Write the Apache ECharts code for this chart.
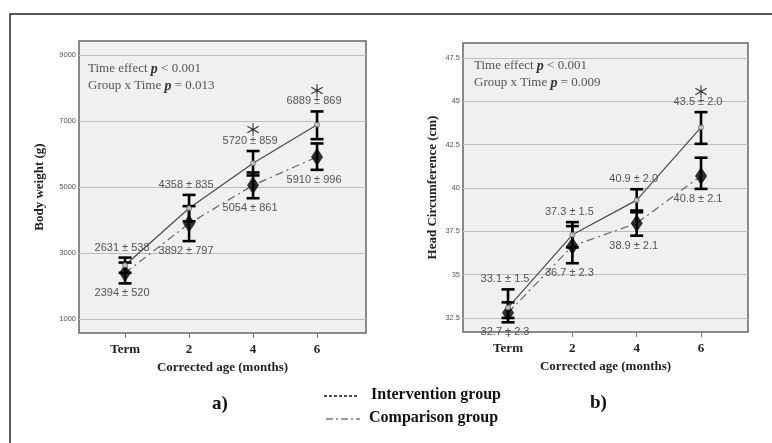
<!DOCTYPE html>
<html>
<head>
<meta charset="utf-8">
<script src="https://cdn.jsdelivr.net/npm/echarts@6/dist/echarts.min.js"></script>
<style>
  body { margin: 0; background: #fff; }
  #main { width: 772px; height: 443px; }
</style>
</head>
<body>
<div id="main"></div>
<script>
// x positions (months) and their tick labels
var ageTicks = [0, 2, 4, 6];
var ageLabels = ['Term', '2', '4', '6'];

// a) body weight (g)
var weightTicks = [1000, 3000, 5000, 7000, 9000];
var weightIntervention = [2631, 4358, 5720, 6889];
var weightInterventionLow = [2400, 3960, 5350, 6450];
var weightInterventionHigh = [2860, 4760, 6090, 7290];
var weightComparison = [2394, 3892, 5054, 5910];
var weightComparisonLow = [2080, 3360, 4660, 5520];
var weightComparisonHigh = [2710, 4420, 5440, 6320];
var weightInterventionText = ['2631 ± 538', '4358 ± 835', '5720 ± 859', '6889 ± 869'];
var weightComparisonText = ['2394 ± 520', '3892 ± 797', '5054 ± 861', '5910 ± 996'];
var weightStars = ['', '', '*', '*'];

// b) head circumference (cm)
var headTicks = [32.5, 35, 37.5, 40, 42.5, 45, 47.5];
var headIntervention = [33.1, 37.3, 39.3, 43.5];
var headInterventionLow = [32.5, 36.57, 38.6, 42.55];
var headInterventionHigh = [34.15, 38.03, 39.93, 44.38];
var headComparison = [32.8, 36.65, 37.97, 40.7];
var headComparisonLow = [32.25, 35.66, 37.25, 39.95];
var headComparisonHigh = [33.4, 37.8, 38.7, 41.75];
var headInterventionText = ['33.1 ± 1.5', '37.3 ± 1.5', '40.9 ± 2.0', '43.5 ± 2.0'];
var headComparisonText = ['32.7 ± 2.3', '36.7 ± 2.3', '38.9 ± 2.1', '40.8 ± 2.1'];
var headStars = ['', '', '', '*'];

var serif = '"Liberation Serif", "DejaVu Serif", serif';
var sans = '"Liberation Sans", Arial, sans-serif';

function pairs(xs, ys) {
  return xs.map(function (x, i) { return [x, ys[i]]; });
}

function bars(xs, lo, hi) {
  return xs.map(function (x, i) { return [x, lo[i], hi[i], i]; });
}

// error bars with the mean ± SD text (above or below) and the asterisk
function errorBars(idx, data, texts, stars, above) {
  return {
    type: 'custom',
    xAxisIndex: idx,
    yAxisIndex: idx,
    z: 4,
    silent: true,
    data: data,
    renderItem: function (params, api) {
      var x = api.value(0);
      var i = api.value(3);
      var top = api.coord([x, api.value(2)]);
      var bot = api.coord([x, api.value(1)]);
      var cw = 6.5;
      var st = { stroke: '#000', lineWidth: 2.6 };
      var kids = [
        { type: 'line', shape: { x1: top[0], y1: top[1], x2: bot[0], y2: bot[1] }, style: st },
        { type: 'line', shape: { x1: top[0] - cw, y1: top[1], x2: top[0] + cw, y2: top[1] }, style: st },
        { type: 'line', shape: { x1: bot[0] - cw, y1: bot[1], x2: bot[0] + cw, y2: bot[1] }, style: st }
      ];
      var ly = above ? top[1] - 10 : bot[1] + 10;
      kids.push({
        type: 'text',
        style: {
          text: texts[i], x: top[0] - 3, y: ly, align: 'center', verticalAlign: 'middle',
          fontSize: 11, fontFamily: sans, fill: '#555'
        }
      });
      if (stars[i]) {
        kids.push({
          type: 'text',
          style: {
            text: '＊', x: top[0], y: ly - 11, align: 'center', verticalAlign: 'middle',
            fontSize: 17, fontFamily: '"Noto Sans CJK SC"', fill: '#333'
          }
        });
      }
      return { type: 'group', children: kids };
    }
  };
}

function xAxisFor(idx, min, max) {
  return {
    type: 'value', gridIndex: idx, min: min, max: max,
    name: 'Corrected age (months)', nameLocation: 'middle', nameGap: 27,
    nameTextStyle: { fontFamily: serif, fontWeight: 'bold', fontSize: 13, color: '#222' },
    axisLine: { show: false },
    axisTick: { show: true, customValues: ageTicks, length: 5, lineStyle: { color: '#777' } },
    axisLabel: {
      customValues: ageTicks, margin: 10,
      fontFamily: serif, fontWeight: 'bold', fontSize: 13, color: '#222',
      formatter: function (v) { return ageLabels[ageTicks.indexOf(v)]; }
    },
    splitLine: { show: false }
  };
}

function yAxisFor(idx, min, max, ticks, name, gap) {
  return {
    type: 'value', gridIndex: idx, min: min, max: max,
    name: name, nameLocation: 'middle', nameGap: gap,
    nameTextStyle: { fontFamily: serif, fontWeight: 'bold', fontSize: 13, color: '#222' },
    axisLine: { show: false },
    axisTick: { show: true, customValues: ticks, length: 4, lineStyle: { color: '#666' } },
    axisLabel: {
      customValues: ticks, margin: 3, fontFamily: sans, fontSize: 7.5, color: '#555',
      formatter: function (v) { return String(v); }
    },
    splitLine: { show: false }
  };
}

function gridLines(ticks) {
  return {
    silent: true, symbol: 'none', z: 1,
    label: { show: false },
    lineStyle: { color: '#bdbdbd', width: 1, type: 'solid' },
    emphasis: { disabled: true },
    data: ticks.map(function (v) { return { yAxis: v }; })
  };
}

function panelSeries(idx, ticks, inter, interLo, interHi, comp, compLo, compHi, interText, compText, stars) {
  return [
    {
      type: 'line', xAxisIndex: idx, yAxisIndex: idx, z: 2,
      data: pairs(ageTicks, comp), symbol: 'none',
      lineStyle: { color: '#666', width: 1.2, type: [8, 4, 2, 4] },
      markLine: gridLines(ticks)
    },
    {
      type: 'line', xAxisIndex: idx, yAxisIndex: idx, z: 3,
      data: pairs(ageTicks, inter), symbol: 'none',
      lineStyle: { color: '#4a4a4a', width: 1.2 }
    },
    errorBars(idx, bars(ageTicks, compLo, compHi), compText, ['', '', '', ''], false),
    errorBars(idx, bars(ageTicks, interLo, interHi), interText, stars, true),
    {
      type: 'scatter', xAxisIndex: idx, yAxisIndex: idx, z: 5,
      data: pairs(ageTicks, comp), symbol: 'diamond', symbolSize: [12, 18],
      itemStyle: { color: '#000' }
    },
    {
      type: 'scatter', xAxisIndex: idx, yAxisIndex: idx, z: 5,
      data: pairs(ageTicks, inter), symbol: 'circle', symbolSize: 5,
      itemStyle: { color: '#eee', borderColor: '#555', borderWidth: 1 }
    }
  ];
}

function note(x, y, lines) {
  return lines.map(function (t, i) {
    return {
      type: 'text', left: x, top: y + i * 17,
      style: {
        text: t, fontFamily: serif, fontSize: 13, fill: '#555',
        rich: { p: { fontFamily: serif, fontStyle: 'italic', fontWeight: 'bold', fontSize: 14, fill: '#333' } }
      }
    };
  });
}

var chart = echarts.init(document.getElementById('main'));

var graphics = [
  { type: 'rect', shape: { x: 10, y: 14, width: 800, height: 500 }, style: { fill: 'none', stroke: '#222', lineWidth: 1.5 } },
  // legend
  { type: 'line', shape: { x1: 324, y1: 396, x2: 358, y2: 396 }, style: { stroke: '#111', lineWidth: 1.3, lineDash: [3, 2] } },
  { type: 'text', left: 371, top: 387, style: { text: 'Intervention group', fontFamily: serif, fontWeight: 'bold', fontSize: 16, fill: '#111' } },
  { type: 'line', shape: { x1: 326, y1: 419, x2: 360, y2: 419 }, style: { stroke: '#333', lineWidth: 1.2, lineDash: [7, 3, 2, 3] } },
  { type: 'text', left: 369, top: 410, style: { text: 'Comparison group', fontFamily: serif, fontWeight: 'bold', fontSize: 16, fill: '#111' } },
  { type: 'text', left: 212, top: 395, style: { text: 'a)', fontFamily: serif, fontWeight: 'bold', fontSize: 19, fill: '#111' } },
  { type: 'text', left: 590, top: 394, style: { text: 'b)', fontFamily: serif, fontWeight: 'bold', fontSize: 19, fill: '#111' } }
].concat(
  note(88, 62, ['Time effect {p|p} < 0.001', 'Group x Time {p|p} = 0.013']),
  note(474, 59, ['Time effect {p|p} < 0.001', 'Group x Time {p|p} = 0.009'])
);

chart.setOption({
  animation: false,
  backgroundColor: '#fff',
  grid: [
    { left: 79, top: 41, width: 287, height: 292, show: true, backgroundColor: '#f0f0f0', borderColor: '#666', borderWidth: 1.5 },
    { left: 463, top: 43, width: 285, height: 289, show: true, backgroundColor: '#f0f0f0', borderColor: '#666', borderWidth: 1.5 }
  ],
  xAxis: [xAxisFor(0, -1.44, 7.53), xAxisFor(1, -1.4, 7.46)],
  yAxis: [
    yAxisFor(0, 576, 9424, weightTicks, 'Body weight (g)', 33),
    yAxisFor(1, 31.69, 48.37, headTicks, 'Head Circumference (cm)', 24)
  ],
  series: panelSeries(0, weightTicks, weightIntervention, weightInterventionLow, weightInterventionHigh,
      weightComparison, weightComparisonLow, weightComparisonHigh,
      weightInterventionText, weightComparisonText, weightStars)
    .concat(panelSeries(1, headTicks, headIntervention, headInterventionLow, headInterventionHigh,
      headComparison, headComparisonLow, headComparisonHigh,
      headInterventionText, headComparisonText, headStars)),
  graphic: graphics
});
</script>
</body>
</html>
